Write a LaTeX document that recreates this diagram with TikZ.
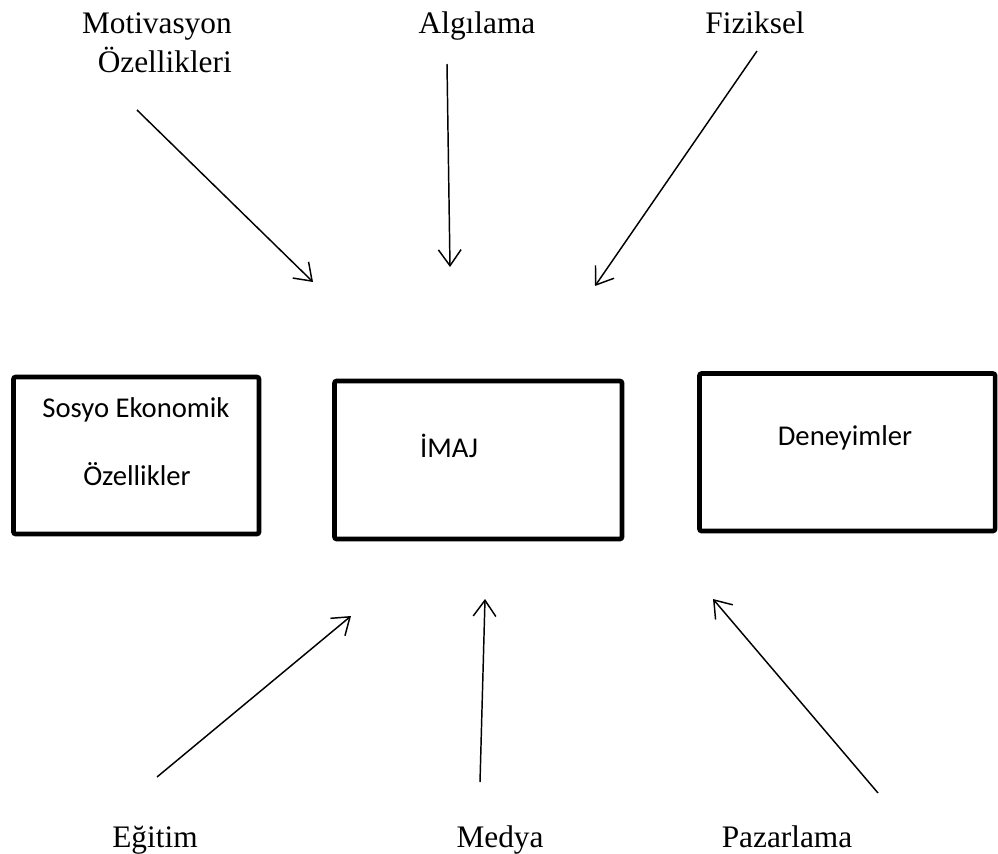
\documentclass[tikz,border=0pt]{standalone}
\usepackage{fontspec}
\setmainfont{Liberation Serif}
\newfontfamily\boxfont{Carlito}
\usetikzlibrary{arrows.meta}
\tikzset{
  boxframe/.style={draw, line width=3.4pt, rounded corners=1.5pt, inner sep=0pt},
  boxtext/.style={font=\boxfont\fontsize{21.5}{26}\selectfont, inner sep=0pt, anchor=base},
  lbl/.style={font=\fontsize{23.5}{28}\selectfont, inner sep=0pt, anchor=base},
  arr/.style={line width=1.1pt, -{Straight Barb[length=12pt, width=17pt, line width=1.1pt]}}
}
\begin{document}
\begin{tikzpicture}[x=0.75pt, y=-0.75pt]
\useasboundingbox (0,0) rectangle (998,853);
% boxes
\draw[boxframe] (13.5,377) rectangle (259,534);
\draw[boxframe] (334.5,381) rectangle (622,539);
\draw[boxframe] (699.5,373.5) rectangle (995,531);
\node[boxtext] (soc1) at (136,417) {Sosyo Ekonomik};
\node[boxtext] (soc2) at (137,485) {Özellikler};
\node[boxtext] (imaj) at (449,457) {İMAJ};
\node[boxtext] (den) at (845,445) {Deneyimler};
% labels
\node[lbl, anchor=base east] (mot1) at (232,33) {Motivasyon};
\node[lbl, anchor=base east] (mot2) at (232,72) {Özellikleri};
\node[lbl] (alg) at (477,33) {Algılama};
\node[lbl] (fiz) at (755,33) {Fiziksel};
\node[lbl] (egi) at (155,847) {Eğitim};
\node[lbl] (med) at (500,847) {Medya};
\node[lbl] (paz) at (787,847) {Pazarlama};
% arrow ends
\coordinate (a1s) at (137,110); \coordinate (a1e) at (313,282);
\coordinate (a2s) at (447,64);  \coordinate (a2e) at (450,267);
\coordinate (a3s) at (757,51);  \coordinate (a3e) at (595,286);
\coordinate (b1s) at (157,777); \coordinate (b1e) at (351,616);
\coordinate (b2s) at (480,782); \coordinate (b2e) at (485,599);
\coordinate (b3s) at (878,793); \coordinate (b3e) at (713,599);
\draw[arr] (a1s) -- (a1e);
\draw[arr] (a2s) -- (a2e);
\draw[arr] (a3s) -- (a3e);
\draw[arr] (b1s) -- (b1e);
\draw[arr] (b2s) -- (b2e);
\draw[arr] (b3s) -- (b3e);
\end{tikzpicture}
\end{document}
